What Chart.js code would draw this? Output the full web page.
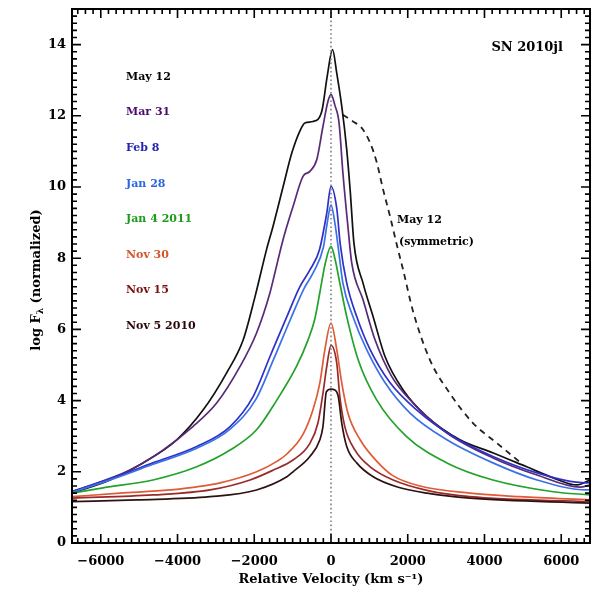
<!DOCTYPE html>
<html><head><meta charset="utf-8">
<script src="https://cdn.jsdelivr.net/npm/chart.js@4.4.1/dist/chart.umd.min.js"></script>
<style>html,body{margin:0;padding:0;background:#fff}#wrap{width:604px;height:589px}</style>
</head><body><div id="wrap"><canvas id="c" width="604" height="589"></canvas></div>
<script>
const xTicks=[-6000,-4000,-2000,0,2000,4000,6000];
const yTicks=[0,2,4,6,8,10,12,14];

const velMay12=[-6750,-5760,-4900,-4020,-3330,-2720,-2290,-1980,-1680,-1510,-1250,-1020,-800,-680,-470,-240,-100,40,150,280,410,500,600,835,1100,1410,1880,2500,3360,4230,5100,5790,6410,6750];
const fluxMay12=[1.40,1.77,2.25,2.90,3.74,4.78,5.70,6.92,8.24,8.90,10.0,10.96,11.6,11.8,11.84,12.13,13.1,13.86,13.2,12.27,11.05,9.9,8.4,7.3,6.35,5.23,4.3,3.55,2.9,2.53,2.14,1.83,1.63,1.77];

const velMar31=[-6750,-5240,-4380,-3600,-2980,-2370,-1940,-1590,-1460,-1250,-990,-730,-550,-370,-210,-80,0,100,210,310,440,540,835,1150,1580,2140,3020,4220,5370,6490,6750];
const fluxMar31=[1.44,2.05,2.61,3.27,3.93,4.96,5.90,7.03,7.6,8.52,9.45,10.3,10.44,10.77,11.7,12.4,12.6,12.3,11.8,10.4,8.9,7.87,6.83,5.70,4.68,3.93,3.09,2.39,1.91,1.57,1.63];

const velFeb8=[-6750,-5680,-4640,-3500,-2630,-2030,-1590,-1150,-810,-550,-300,-110,0,150,240,410,670,1020,1540,2230,3180,4220,5370,6670,6750];
const fluxFeb8=[1.44,1.83,2.25,2.71,3.27,4.11,5.24,6.36,7.20,7.67,8.24,9.27,10.02,9.4,8.4,7.3,6.36,5.43,4.50,3.74,2.99,2.43,1.97,1.69,1.70];

const velJan28=[-6750,-5680,-4640,-3500,-2630,-1950,-1500,-1050,-700,-450,-200,-90,0,100,200,310,575,930,1410,2060,3020,4220,5370,6670,6750];
const fluxJan28=[1.42,1.80,2.21,2.66,3.20,4.05,5.15,6.30,7.15,7.62,8.3,9.05,9.50,9.0,8.2,7.3,6.35,5.43,4.50,3.65,2.90,2.25,1.77,1.49,1.50];

const velJan4=[-6750,-5940,-4640,-3500,-2630,-1940,-1420,-900,-600,-420,-280,-150,0,100,230,410,710,1190,1970,3020,4220,5790,6750];
const fluxJan4=[1.40,1.55,1.77,2.14,2.61,3.18,4.00,4.96,5.70,6.30,7.10,7.85,8.33,8.0,7.30,6.36,5.14,4.02,2.99,2.25,1.77,1.44,1.35];

const velNov30=[-6750,-5500,-4200,-2890,-1940,-1400,-1150,-730,-470,-290,-160,0,150,280,440,760,1190,1600,2320,3620,4920,6750];
const fluxNov30=[1.30,1.40,1.49,1.69,2.00,2.30,2.50,3.05,3.74,4.50,5.43,6.18,5.43,4.50,3.65,2.90,2.30,1.90,1.60,1.40,1.30,1.21];

const velNov15=[-6750,-4640,-3150,-2110,-1500,-990,-550,-340,-210,-110,0,150,230,360,625,1020,1620,2500,3620,6750];
const fluxNov15=[1.26,1.35,1.49,1.77,2.05,2.33,2.80,3.37,4.20,4.96,5.55,5.05,4.11,3.27,2.61,2.14,1.77,1.48,1.30,1.16];

const velNov5=[-6750,-5060,-3150,-1940,-1150,-990,-550,-290,-210,-120,0,100,190,280,410,670,1100,1710,2500,3620,6750];
const fluxNov5=[1.16,1.21,1.30,1.49,1.86,2.00,2.43,2.90,3.27,4.25,4.32,4.30,4.11,3.37,2.71,2.25,1.86,1.58,1.40,1.26,1.12];

const velSym=[310,575,800,1020,1190,1360,1540,1710,1880,2140,2580,3100,3700,4330,4950];
const fluxSym=[12.03,11.84,11.66,11.24,10.70,9.92,9.17,8.40,7.67,6.50,5.14,4.20,3.37,2.80,2.25];

const seriesNames=['May 12','Mar 31','Feb 8','Jan 28','Jan 4 2011','Nov 30','Nov 15','Nov 5 2010'];
const seriesVel=[velMay12,velMar31,velFeb8,velJan28,velJan4,velNov30,velNov15,velNov5];
const seriesFlux=[fluxMay12,fluxMar31,fluxFeb8,fluxJan28,fluxJan4,fluxNov30,fluxNov15,fluxNov5];
const lineColors=['#111111','#5a2a78','#3030c8','#3a72e6','#22a22a','#e05a36','#9a2a2a','#2e1212'];
const textColors=['#000000','#4a0d6e','#2222b4','#2a66e0','#1f9a1f','#d4552e','#7a1212','#2a0808'];

const FONT='"DejaVu Serif"';

function pts(v,f){return v.map((x,i)=>({x:x,y:f[i]}));}

const datasets=[];
datasets.push({label:'zero',data:pts([0,0],[0,15]),borderColor:'#808080',borderWidth:1.6,borderDash:[1.6,2.6],pointRadius:0,showLine:true});
for(let i=seriesNames.length-1;i>=0;i--){
  datasets.push({label:seriesNames[i],data:pts(seriesVel[i],seriesFlux[i]),borderColor:lineColors[i],borderWidth:1.7,pointRadius:0,showLine:true,cubicInterpolationMode:'monotone'});
}
datasets.push({label:'May 12 (symmetric)',data:pts(velSym,fluxSym),borderColor:'#222',borderWidth:1.8,borderDash:[6,5],pointRadius:0,showLine:true,cubicInterpolationMode:'monotone'});

const framePlugin={
  id:'frame',
  afterDatasetsDraw(chart){
    const ctx=chart.ctx, a=chart.chartArea, xs=chart.scales.x, ys=chart.scales.y;
    ctx.save();
    ctx.strokeStyle='#000';
    ctx.lineWidth=1.6;
    ctx.beginPath();
    for(let v=-6600;v<=6600;v+=200){
      const px=xs.getPixelForValue(v);
      const len=(v%2000===0)?9:5;
      ctx.moveTo(px,a.bottom);ctx.lineTo(px,a.bottom-len);
      ctx.moveTo(px,a.top);ctx.lineTo(px,a.top+len);
    }
    for(let k=1;k<75;k++){
      const v=k*0.2;
      const py=ys.getPixelForValue(v);
      const len=(k%10===0)?9:5;
      ctx.moveTo(a.left,py);ctx.lineTo(a.left+len,py);
      ctx.moveTo(a.right,py);ctx.lineTo(a.right-len,py);
    }
    ctx.stroke();
    ctx.lineWidth=2;
    ctx.strokeRect(a.left,a.top,a.right-a.left,a.bottom-a.top);

    // legend labels
    ctx.textBaseline='middle';
    ctx.textAlign='left';
    ctx.font='bold 11px '+FONT;
    for(let i=0;i<seriesNames.length;i++){
      ctx.fillStyle=textColors[i];
      ctx.fillText(seriesNames[i],126,77+i*35.6);
    }
    ctx.fillStyle='#000';
    ctx.font='bold 11px '+FONT;
    ctx.fillText('May 12',397,220);
    ctx.fillText('(symmetric)',399,242);
    ctx.font='bold 13px '+FONT;
    ctx.textAlign='right';
    ctx.fillText('SN 2010jl',563,48);

    // x title
    ctx.textAlign='center';
    ctx.font='bold 13px '+FONT;
    ctx.fillText('Relative Velocity (km s\u207B\u00B9)',(a.left+a.right)/2,580);

    // y title with subscript
    ctx.translate(37,(a.top+a.bottom)/2+4);
    ctx.rotate(-Math.PI/2);
    const p1='log F', p2='\u03BB', p3=' (normalized)';
    const f1='bold 13px '+FONT, f2='bold 9px '+FONT;
    ctx.font=f1; const w1=ctx.measureText(p1).width, w3=ctx.measureText(p3).width;
    ctx.font=f2; const w2=ctx.measureText(p2).width;
    let x0=-(w1+w2+w3)/2;
    ctx.textAlign='left';
    ctx.font=f1; ctx.fillText(p1,x0,0);
    ctx.font=f2; ctx.fillText(p2,x0+w1,4);
    ctx.font=f1; ctx.fillText(p3,x0+w1+w2,0);
    ctx.restore();
  }
};

new Chart(document.getElementById('c'),{
  type:'scatter',
  data:{datasets:datasets},
  options:{
    responsive:false,
    devicePixelRatio:1,
    animation:false,
    layout:{padding:{left:0,right:14,top:9,bottom:0}},
    plugins:{legend:{display:false},tooltip:{enabled:false}},
    scales:{
      x:{type:'linear',min:-6750,max:6750,
        grid:{display:false,drawTicks:false},border:{display:false},
        afterBuildTicks:(s)=>{s.ticks=xTicks.map(v=>({value:v}));},
        afterFit:(s)=>{s.height=46;s.paddingLeft=0;s.paddingRight=0;},
        ticks:{padding:11,color:'#000',font:{family:'DejaVu Serif',weight:'bold',size:13},maxRotation:0,autoSkip:false,
          callback:(v)=>String(v).replace('-','\u2212')}
      },
      y:{type:'linear',min:0,max:15,
        grid:{display:false,drawTicks:false},border:{display:false},
        afterBuildTicks:(s)=>{s.ticks=yTicks.map(v=>({value:v}));},
        afterFit:(s)=>{s.width=72;s.paddingTop=0;s.paddingBottom=0;},
        ticks:{padding:6,color:'#000',font:{family:'DejaVu Serif',weight:'bold',size:13},autoSkip:false}
      }
    }
  },
  plugins:[framePlugin]
});
</script></body></html>
